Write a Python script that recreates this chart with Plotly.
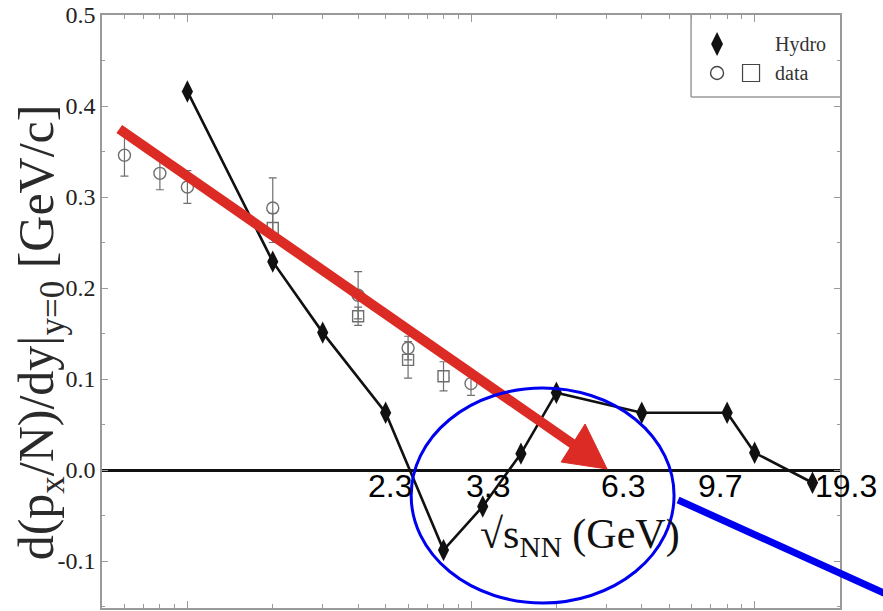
import plotly.graph_objects as go

# Directed-flow slope vs. beam energy (E_lab in AGeV, log axis)
hydro_e = [1, 2, 3, 5, 8, 11, 15, 20, 40, 80, 100, 160]
hydro_v = [0.416, 0.229, 0.151, 0.063, -0.088, -0.040, 0.018, 0.085, 0.063, 0.063, 0.019, -0.014]

circ_e = [0.6, 0.8, 1, 2, 4, 6, 10]
circ_v = [0.346, 0.326, 0.311, 0.288, 0.192, 0.134, 0.095]
circ_err = [0.023, 0.018, 0.018, 0.033, 0.026, 0.013, 0.013]

sq_e = [2, 4, 6, 8]
sq_v = [0.266, 0.169, 0.121, 0.103]
sq_err = [0.016, 0.010, 0.020, 0.016]

y_ticks = [-0.1, 0.0, 0.1, 0.2, 0.3, 0.4, 0.5]
y_tick_text = ["-0.1", "0.0", "0.1", "0.2", "0.3", "0.4", "0.5"]

sqrt_s_labels = ["2.3", "3.3", "6.3", "9.7", "19.3"]

# plot-area pixel frame, used to place overlay graphics in paper units
X0, X1 = 101.7, 840.0
Y0, Y1 = 15.0, 608.0


def xp(px):
    return (px - X0) / (X1 - X0)


def yp(py):
    return (Y1 - py) / (Y1 - Y0)


GRAY = "#6f6f6f"
AXIS = "#9a9a9a"
SERIF = "Liberation Serif"
SANS = "Liberation Sans"

fig = go.Figure()

fig.add_trace(go.Scatter(
    x=circ_e, y=circ_v, mode="markers",
    marker=dict(symbol="circle-open", size=12, color=GRAY, line=dict(width=1.4)),
    error_y=dict(type="data", array=circ_err, color=GRAY, thickness=1.2, width=4),
    showlegend=False,
))
fig.add_trace(go.Scatter(
    x=sq_e, y=sq_v, mode="markers",
    marker=dict(symbol="square-open", size=11, color=GRAY, line=dict(width=1.4)),
    error_y=dict(type="data", array=sq_err, color=GRAY, thickness=1.2, width=4),
    showlegend=False,
))
fig.add_trace(go.Scatter(
    x=hydro_e, y=hydro_v, mode="lines+markers",
    line=dict(color="#111111", width=2.6),
    marker=dict(symbol="diamond-tall", size=16, color="#111111"),
    showlegend=False,
))

# legend symbols on an invisible overlay axis spanning the plot area
fig.add_trace(go.Scatter(
    x=[xp(717)], y=[yp(44)], xaxis="x2", yaxis="y2", mode="markers",
    marker=dict(symbol="diamond-tall", size=17, color="#111111"), showlegend=False,
))
fig.add_trace(go.Scatter(
    x=[xp(717)], y=[yp(73)], xaxis="x2", yaxis="y2", mode="markers",
    marker=dict(symbol="circle-open", size=13, color="#444444", line=dict(width=1.4)), showlegend=False,
))
fig.add_trace(go.Scatter(
    x=[xp(751)], y=[yp(73)], xaxis="x2", yaxis="y2", mode="markers",
    marker=dict(symbol="square-open", size=17, color="#444444", line=dict(width=1.2)), showlegend=False,
))

shapes = [
    # legend frame
    dict(type="line", xref="paper", yref="paper", x0=xp(691), x1=xp(691), y0=yp(15), y1=yp(97),
         line=dict(color=AXIS, width=1.5)),
    dict(type="line", xref="paper", yref="paper", x0=xp(691), x1=1, y0=yp(97), y1=yp(97),
         line=dict(color=AXIS, width=1.5)),
    # red trend arrow
    dict(type="line", xref="paper", yref="paper", x0=xp(119), y0=yp(129), x1=xp(577), y1=yp(447),
         line=dict(color="#dc2a24", width=10)),
    dict(type="path", xref="paper", yref="paper",
         path=f"M {xp(607)},{yp(469)} L {xp(561)},{yp(462)} L {xp(585)},{yp(424)} Z",
         fillcolor="#dc2a24", line=dict(color="#dc2a24", width=1)),
    # blue ellipse and pointer line
    dict(type="circle", xref="paper", yref="paper", x0=xp(411), x1=xp(674), y0=yp(603), y1=yp(388),
         line=dict(color="#0000f0", width=3)),
    dict(type="line", xref="paper", yref="paper", x0=xp(678), y0=yp(500), x1=xp(886), y1=yp(594),
         line=dict(color="#0000f0", width=7)),
]

annotations = [
    dict(text="d(p<sub>x</sub>/N)/dy|<sub>y=0</sub> [GeV/c]", xref="paper", yref="paper",
         x=xp(40), y=yp(332), xanchor="center", yanchor="middle", textangle=-90, showarrow=False,
         font=dict(family=SERIF, size=50, color="#2a2a2a")),
    dict(text="√s<sub>NN</sub> (GeV)", xref="paper", yref="paper",
         x=xp(580), y=yp(537), xanchor="center", yanchor="middle", showarrow=False,
         font=dict(family=SERIF, size=42, color="#111111")),
    dict(text="Hydro", xref="paper", yref="paper", x=xp(773), y=yp(44),
         xanchor="left", yanchor="middle",
         showarrow=False, font=dict(family=SERIF, size=20, color="#333333")),
    dict(text="data", xref="paper", yref="paper", x=xp(773), y=yp(73),
         xanchor="left", yanchor="middle",
         showarrow=False, font=dict(family=SERIF, size=20, color="#333333")),
]
for label, cx in zip(sqrt_s_labels, [390, 488, 623, 720, 846]):
    annotations.append(dict(text=label, xref="paper", yref="paper", x=xp(cx), y=yp(486),
                            xanchor="center", yanchor="middle",
                            showarrow=False, font=dict(family=SANS, size=32, color="#000000")))

fig.update_layout(
    width=883, height=611,
    margin=dict(l=102, r=43, t=15, b=3, pad=0),
    paper_bgcolor="white", plot_bgcolor="white",
    showlegend=False,
    font=dict(family=SERIF),
    shapes=shapes, annotations=annotations,
    xaxis=dict(
        type="log", range=[-0.30103, 2.30103],
        tickvals=[1, 10, 100], ticks="inside", ticklen=7, tickcolor=AXIS,
        showticklabels=False, showgrid=False, zeroline=False,
        showline=True, linecolor=AXIS, linewidth=1.5, mirror="ticks",
        minor=dict(dtick="D1", ticks="inside", ticklen=4, tickcolor=AXIS, showgrid=False),
    ),
    yaxis=dict(
        range=[-0.1516, 0.5],
        tickvals=y_ticks, ticktext=y_tick_text, ticks="inside", ticklen=6, tickcolor=AXIS,
        tickfont=dict(family=SERIF, size=24, color="#222222"),
        showgrid=False, zeroline=True, zerolinecolor="#111111", zerolinewidth=3,
        showline=True, linecolor=AXIS, linewidth=1.5, mirror="ticks",
        minor=dict(dtick=0.05, ticks="inside", ticklen=3, tickcolor=AXIS, showgrid=False),
    ),
    xaxis2=dict(overlaying="x", anchor="y2", range=[0, 1], visible=False),
    yaxis2=dict(overlaying="y", anchor="x2", range=[0, 1], visible=False),
)

fig.write_html("out.html")
